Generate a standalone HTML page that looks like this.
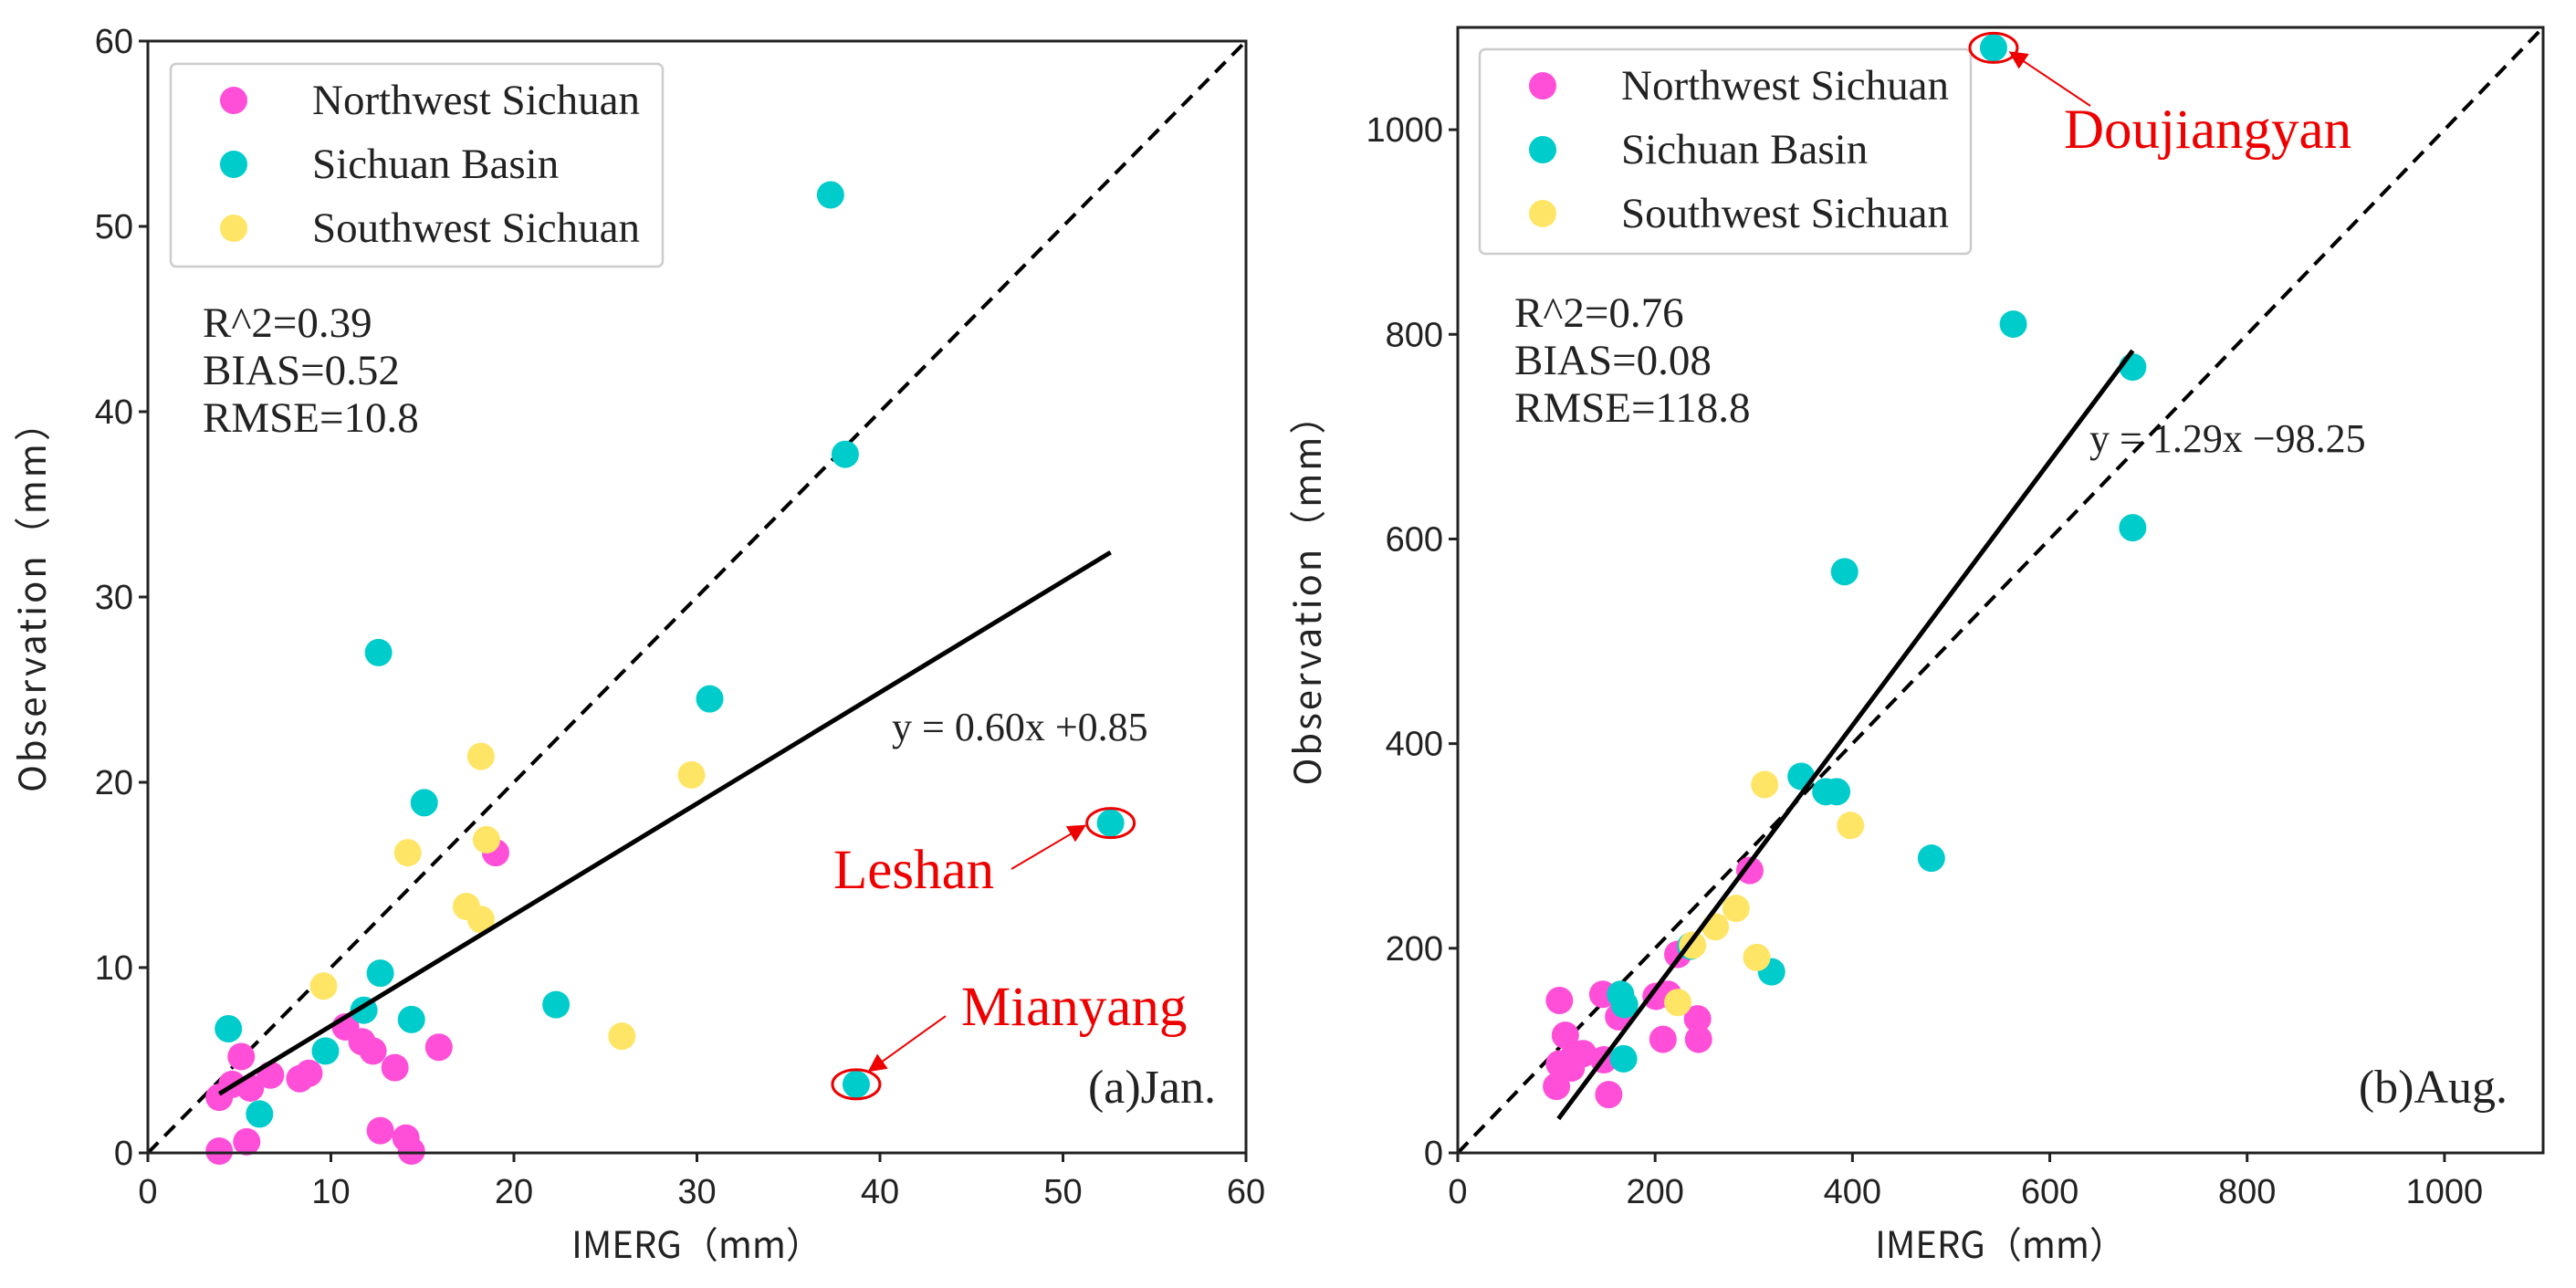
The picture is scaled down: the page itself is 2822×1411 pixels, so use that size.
<!DOCTYPE html>
<html><head><meta charset="utf-8"><style>
html,body{margin:0;padding:0;background:#fff}
svg{display:block}
.tick{font-family:"Liberation Sans","WenQuanYi Zen Hei",sans-serif;font-size:38px;fill:#222}
.ser{font-family:"Liberation Serif",serif;fill:#222}
.lab{font-family:"WenQuanYi Zen Hei","Noto Sans CJK SC",sans-serif;font-size:40px;fill:#222}
</style></head><body>
<svg id="chart" width="2822" height="1411" viewBox="0 0 2822 1411" xmlns="http://www.w3.org/2000/svg">
<defs><marker id="ah" markerWidth="10" markerHeight="10" refX="8" refY="5" orient="auto"><path d="M0,0 L10,5 L0,10 z" fill="#e00"/></marker></defs>
</svg>
<script>
// ---- Panel (a) January data ----
const janNWx=[3.9,3.9,5.1,5.4,5.6,6.7,8.3,8.8,10.8,11.7,12.3,13.5,15.9,12.7,14.1,14.4,19.0,4.6];
const janNWy=[3.0,0.1,5.2,0.6,3.5,4.2,4.0,4.3,6.8,6.0,5.5,4.6,5.7,1.2,0.8,0.1,16.2,3.7];
const janSBx=[37.3,38.1,12.6,30.7,15.1,52.6,12.7,11.8,14.4,22.3,4.4,9.7,6.1,38.7];
const janSBy=[51.7,37.7,27.0,24.5,18.9,17.8,9.7,7.7,7.2,8.0,6.7,5.5,2.1,3.7];
const janSWx=[18.2,29.7,14.2,18.5,17.4,18.2,9.6,25.9];
const janSWy=[21.4,20.4,16.2,16.9,13.3,12.6,9.0,6.3];
const janTicks=[0,10,20,30,40,50,60];
const janFit=[0.60,0.85]; const janFitRange=[3.9,52.6];
// ---- Panel (b) August data ----
const augNWx=[103,109,103,100,118,127,115,147,148,153,163,201,213,208,243,244,223,296];
const augNWy=[149,115,87,65,95,97,83,155,91,57,133,153,155,111,131,111,194,276];
const augSBx=[543,563,684,684,392,348,373,384,480,318,236,165,169,168];
const augSBy=[1080,810,768,611,568,368,353,353,288,177,202,155,145,92];
const augSWx=[311,398,282,261,238,303,223];
const augSWy=[360,320,239,221,203,191,147];
const augTicks=[0,200,400,600,800,1000];
const augFit=[1.29,-98.25]; const augFitRange=[102,684];

const NS='http://www.w3.org/2000/svg';
const svg=document.getElementById('chart');
function mk(tag,attrs,parent,text){const e=document.createElementNS(NS,tag);for(const k in attrs)e.setAttribute(k,attrs[k]);if(text!==undefined)e.textContent=text;(parent||svg).appendChild(e);return e;}
const COL={nw:'#ff4fd8',sb:'#00cccc',sw:'#ffe566'};

function panel(cfg){
  const g=mk('g',{});
  
  
  const X=v=>cfg.x0+(v-cfg.min)/(cfg.max-cfg.min)*(cfg.x1-cfg.x0);
  const Y=v=>cfg.y0-(v-cfg.min)/(cfg.max-cfg.min)*(cfg.y0-cfg.y1);
  const d=mk('line',{x1:X(cfg.min),y1:Y(cfg.min),x2:X(cfg.max),y2:Y(cfg.max),stroke:'#000','stroke-width':4,'stroke-dasharray':'16,10'},g);
  
  
  const series=[['nw',cfg.nwx,cfg.nwy],['sb',cfg.sbx,cfg.sby],['sw',cfg.swx,cfg.swy]];
  series.forEach(([k,xs,ys])=>{xs.forEach((xv,i)=>{
    const c=mk('circle',{cx:X(xv),cy:Y(ys[i]),r:15,fill:COL[k]},g);
    
    
  });});
  const f=mk('line',{x1:X(cfg.fr[0]),y1:Y(cfg.fit[0]*cfg.fr[0]+cfg.fit[1]),x2:X(cfg.fr[1]),y2:Y(cfg.fit[0]*cfg.fr[1]+cfg.fit[1]),stroke:'#000','stroke-width':5},g);
  
  
  const fr=mk('rect',{x:cfg.x0,y:cfg.y1,width:cfg.x1-cfg.x0,height:cfg.y0-cfg.y1,fill:'none',stroke:'#222','stroke-width':3},g);
  
  
  cfg.ticks.forEach(t=>{
    mk('line',{x1:X(t),y1:cfg.y0,x2:X(t),y2:cfg.y0+10,stroke:'#222','stroke-width':3},g);
    const tx=mk('text',{x:X(t),y:cfg.y0+55,'text-anchor':'middle',class:'tick'},g,String(t));
    
    
    mk('line',{x1:cfg.x0-10,y1:Y(t),x2:cfg.x0,y2:Y(t),stroke:'#222','stroke-width':3},g);
    const ty=mk('text',{x:cfg.x0-16,y:Y(t)+13,'text-anchor':'end',class:'tick'},g,String(t));
    
    
  });
  const xl=mk('text',{x:(cfg.x0+cfg.x1)/2,y:1378,'text-anchor':'middle',class:'lab'},g,'IMERG（mm）');
  
  
  const yl=mk('text',{x:0,y:0,'text-anchor':'middle',class:'lab',transform:`translate(${cfg.ylx},${(cfg.y0+cfg.y1)/2}) rotate(-90)`,'letter-spacing':'3'},g,'Observation（mm）');
  
  
  const L=cfg.leg;
  const lb=mk('rect',{x:L.x,y:L.y,width:L.w,height:L.h,rx:6,fill:'#fff',stroke:'#ccc','stroke-width':2.5},g);
  
  
  [['nw','Northwest Sichuan'],['sb','Sichuan Basin'],['sw','Southwest Sichuan']].forEach(([k,t],i)=>{
    const cy=L.y+40+i*70;
    const m=mk('circle',{cx:L.x+69,cy:cy,r:15,fill:COL[k]},g);
    
    
    const lt=mk('text',{x:L.x+155,y:cy+15,class:'ser','font-size':47},g,t);
    
    
  });
  cfg.stats.forEach((s,i)=>{
    const st=mk('text',{x:cfg.sx,y:cfg.sy+i*52,class:'ser','font-size':47},g,s);
    
    
  });
  const eq=mk('text',{x:cfg.eq[0],y:cfg.eq[1],class:'ser','font-size':44},g,cfg.eqText);
  
  
  const pl=mk('text',{x:cfg.pl[0],y:cfg.pl[1],'text-anchor':'end',class:'ser','font-size':52},g,cfg.plText);
  
  
  cfg.ann.forEach(a=>{
    const e=mk('ellipse',{cx:X(a.px),cy:Y(a.py),rx:26,ry:16,fill:'none',stroke:'#e00','stroke-width':3},g);
    
    
    const ar=mk('line',{x1:a.from[0],y1:a.from[1],x2:X(a.px)+a.to[0],y2:Y(a.py)+a.to[1],stroke:'#e00','stroke-width':2,'marker-end':'url(#ah)'},g);
    
    
    const at=mk('text',{x:a.tx,y:a.ty,class:'ser','font-size':61,style:'fill:#e00'},g,a.text);
    
    
  });
}
panel({name:'panel-january',x0:162,x1:1365,y0:1263,y1:45,min:0,max:60,ticks:janTicks,
  nwx:janNWx,nwy:janNWy,sbx:janSBx,sby:janSBy,swx:janSWx,swy:janSWy,fit:janFit,fr:janFitRange,ylx:50,
  leg:{x:187,y:70,w:539,h:222},stats:['R^2=0.39','BIAS=0.52','RMSE=10.8'],sx:222,sy:369,
  eq:[977,811],eqText:'y = 0.60x +0.85',pl:[1332,1208],plText:'(a)Jan.',
  ann:[{px:52.6,py:17.8,from:[1108,952],to:[-30,4],tx:913,ty:973,text:'Leshan'},
       {px:38.7,py:3.7,from:[1036,1113],to:[16,-16],tx:1053,ty:1123,text:'Mianyang'}]});
panel({name:'panel-august',x0:1597,x1:2786,y0:1263,y1:30,min:0,max:1100,ticks:augTicks,
  nwx:augNWx,nwy:augNWy,sbx:augSBx,sby:augSBy,swx:augSWx,swy:augSWy,fit:augFit,fr:augFitRange,ylx:1447,
  leg:{x:1621,y:54,w:538,h:224},stats:['R^2=0.76','BIAS=0.08','RMSE=118.8'],sx:1659,sy:358,
  eq:[2289,495],eqText:'y = 1.29x \u221298.25',pl:[2747,1208],plText:'(b)Aug.',
  ann:[{px:543,py:1080,from:[2290,116],to:[20,6],tx:2261,ty:162,text:'Doujiangyan'}]});
</script>
</body></html>
